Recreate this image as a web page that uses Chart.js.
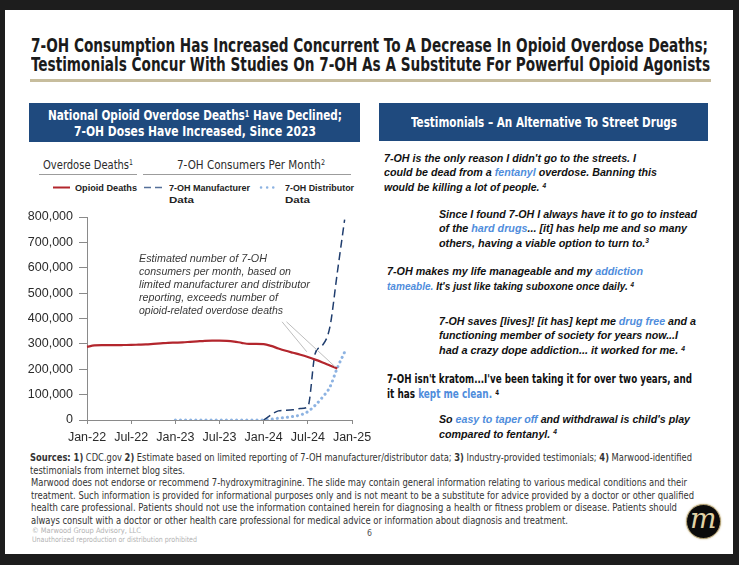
<!DOCTYPE html>
<html><head><meta charset="utf-8">
<script src="https://cdn.jsdelivr.net/npm/chart.js@4.4.1/dist/chart.umd.min.js"></script>
<style>
html,body{margin:0;padding:0;width:739px;height:565px;overflow:hidden;background:#1d1d1d;font-family:"Liberation Sans",Arial,sans-serif;}
.slide{position:absolute;left:5px;top:10px;width:728px;height:544px;background:#fff;}
.ln{position:absolute;white-space:nowrap;display:inline-block;line-height:1.2;transform-origin:left center;}
.nar{font-family:"Liberation Sans Narrow","DejaVu Sans Condensed","Liberation Sans",Arial,sans-serif;}
.title{font-size:19px;font-weight:bold;color:#1b1b1b;}
.hdr{font-size:13.5px;font-weight:bold;color:#fff;}
.sub{font-size:12.5px;color:#2b2b2b;}
.leg{font-size:9.5px;font-weight:bold;color:#222;}
.tq{font-size:11.5px;font-weight:bold;font-style:italic;color:#111;}
.tq.up{font-style:normal;}
.hl{color:#4f8ddc;}
.ann{font-size:11px;font-style:italic;color:#3a3a3a;}
.src{font-size:10px;color:#333;}
.cp{font-size:7.5px;color:#b3b3b3;}
.sup{font-size:0.62em;position:relative;top:-0.45em;}
.box{position:absolute;background:#1f4a7e;}
.rule{position:absolute;}
#chartWrap{position:absolute;left:0;top:200px;width:380px;height:250px;}
.logo{position:absolute;left:686px;top:504px;width:33px;height:33px;border-radius:50%;background:#0b0b0b;border:1.5px solid #b9a77a;box-shadow:0 0 2px #c9b98a;overflow:hidden;}
.logo span{position:absolute;left:3px;top:-3px;font-family:"DejaVu Serif",serif;font-style:italic;font-size:28px;color:#e2d4a6;letter-spacing:-2px;}
</style>
</head>
<body>
<div class="slide"></div>

<!-- Title -->
<div class="ln nar title" data-x="31" data-y="45" data-w="677">7-OH Consumption Has Increased Concurrent To A Decrease In Opioid Overdose Deaths;</div>
<div class="ln nar title" data-x="31" data-y="64.5" data-w="679">Testimonials Concur With Studies On 7-OH As A Substitute For Powerful Opioid Agonists</div>
<div class="rule" style="left:30px;top:79px;width:681px;height:3px;background:#c7bd9d"></div>

<!-- Left header -->
<div class="box" style="left:29px;top:103px;width:331px;height:39px"></div>
<div class="ln nar hdr" data-x="48" data-y="115.5" data-w="294">National Opioid Overdose Deaths<span class="sup">1</span> Have Declined;</div>
<div class="ln nar hdr" data-x="73.5" data-y="131" data-w="242">7-OH Doses Have Increased, Since 2023</div>

<!-- Right header -->
<div class="box" style="left:379px;top:103px;width:329px;height:38px"></div>
<div class="ln nar hdr" data-x="410.5" data-y="122" data-w="266">Testimonials – An Alternative To Street Drugs</div>

<!-- Sub headers -->
<div class="ln nar sub" data-x="42.7" data-y="164" data-w="90">Overdose Deaths<span class="sup">1</span></div>
<div class="rule" style="left:38.5px;top:173.5px;width:98px;height:1.5px;background:#9c9c9c"></div>
<div class="ln nar sub" data-x="176.7" data-y="164" data-w="148">7-OH Consumers Per Month<span class="sup">2</span></div>
<div class="rule" style="left:143px;top:173.5px;width:208px;height:1.5px;background:#9c9c9c"></div>

<!-- Legend -->
<svg style="position:absolute;left:0;top:0" width="739" height="230">
  <line x1="53" y1="187.5" x2="70" y2="187.5" stroke="#b3262d" stroke-width="2"/>
  <line x1="144" y1="187.5" x2="164" y2="187.5" stroke="#55709a" stroke-width="1.5" stroke-dasharray="7,4"/>
  <line x1="261" y1="187.5" x2="279" y2="187.5" stroke="#8db3e2" stroke-width="2.5" stroke-linecap="round" stroke-dasharray="0.1,6"/>
</svg>
<div class="ln leg" data-x="75" data-y="187.5" data-w="62">Opioid Deaths</div>
<div class="ln leg" data-x="169" data-y="187.5" data-w="81">7-OH Manufacturer</div>
<div class="ln leg" data-x="169" data-y="200" data-w="25">Data</div>
<div class="ln leg" data-x="284.5" data-y="187.5" data-w="69">7-OH Distributor</div>
<div class="ln leg" data-x="284.5" data-y="200" data-w="25">Data</div>

<!-- Chart -->
<div id="chartWrap"><canvas id="c" width="380" height="250"></canvas></div>

<!-- Annotation -->
<div class="ln ann" data-x="139" data-y="258.3" data-w="128">Estimated number of 7-OH</div>
<div class="ln ann" data-x="139" data-y="271.2" data-w="152">consumers per month, based on</div>
<div class="ln ann" data-x="139" data-y="284.2" data-w="171">limited manufacturer and distributor</div>
<div class="ln ann" data-x="139" data-y="297.3" data-w="139">reporting, exceeds number of</div>
<div class="ln ann" data-x="139" data-y="310.5" data-w="144">opioid-related overdose deaths</div>

<!-- Testimonials -->
<div class="ln tq" data-x="383.5" data-y="158.5" data-w="252">7-OH is the only reason I didn't go to the streets. I</div>
<div class="ln tq" data-x="383.5" data-y="173.2" data-w="273">could be dead from a <span class="hl">fentanyl</span> overdose. Banning this</div>
<div class="ln tq" data-x="383.5" data-y="187.8" data-w="162">would be killing a lot of people. <span class="sup">4</span></div>

<div class="ln tq" data-x="438.5" data-y="214.5" data-w="258">Since I found 7-OH I always have it to go to instead</div>
<div class="ln tq" data-x="438.5" data-y="229" data-w="248">of the <span class="hl">hard drugs</span>... [it] has help me and so many</div>
<div class="ln tq" data-x="438.5" data-y="243.5" data-w="210">others, having a viable option to turn to.<span class="sup">3</span></div>

<div class="ln tq" data-x="386.5" data-y="272" data-w="256">7-OH makes my life manageable and my <span class="hl">addiction</span></div>
<div class="ln tq" data-x="386.5" data-y="286.8" data-w="247"><span class="hl">tameable.</span> It's just like taking suboxone once daily. <span class="sup">4</span></div>

<div class="ln tq" data-x="439" data-y="321.5" data-w="257">7-OH saves [lives]! [it has] kept me <span class="hl">drug free</span> and a</div>
<div class="ln tq" data-x="439" data-y="336.3" data-w="239">functioning member of society for years now...I</div>
<div class="ln tq" data-x="439" data-y="351" data-w="246">had a crazy dope addiction... it worked for me. <span class="sup">4</span></div>

<div class="ln nar tq up" data-x="386.5" data-y="380" data-w="305">7-OH isn't kratom...I've been taking it for over two years, and</div>
<div class="ln nar tq up" data-x="386.5" data-y="395" data-w="112">it has <span class="hl">kept me clean.</span> <span class="sup">4</span></div>

<div class="ln tq" data-x="439" data-y="419.5" data-w="251">So <span class="hl">easy to taper off</span> and withdrawal is child's play</div>
<div class="ln tq" data-x="439" data-y="434.5" data-w="118">compared to fentanyl. <span class="sup">4</span></div>

<!-- Sources / disclaimer -->
<div class="ln nar src" data-x="30" data-y="457.5" data-w="662"><b>Sources: 1)</b> CDC.gov <b>2)</b> Estimate based on limited reporting of 7-OH manufacturer/distributor data; <b>3)</b> Industry-provided testimonials; <b>4)</b> Marwood-identified</div>
<div class="ln nar src" data-x="30" data-y="470.5" data-w="155">testimonials from internet blog sites.</div>
<div class="ln nar src" data-x="30.5" data-y="483" data-w="656">Marwood does not endorse or recommend 7-hydroxymitraginine. The slide may contain general information relating to various medical conditions and their</div>
<div class="ln nar src" data-x="30.5" data-y="495.8" data-w="663">treatment. Such information is provided for informational purposes only and is not meant to be a substitute for advice provided by a doctor or other qualified</div>
<div class="ln nar src" data-x="30.5" data-y="508.3" data-w="646">health care professional. Patients should not use the information contained herein for diagnosing a health or fitness problem or disease. Patients should</div>
<div class="ln nar src" data-x="30.5" data-y="520.8" data-w="537">always consult with a doctor or other health care professional for medical advice or information about diagnosis and treatment.</div>
<div class="ln nar cp" data-x="32" data-y="530" data-w="109">© Marwood Group Advisory, LLC</div>
<div class="ln nar cp" data-x="32" data-y="539" data-w="165">Unauthorized reproduction or distribution prohibited</div>
<div class="ln nar" style="font-size:9px;color:#555" data-x="366.5" data-y="533" data-w="5">6</div>

<div class="logo"><span>m</span></div>

<script>
// ---- Data ----
const months = ["Jan-22","Feb-22","Mar-22","Apr-22","May-22","Jun-22","Jul-22","Aug-22","Sep-22","Oct-22","Nov-22","Dec-22",
  "Jan-23","Feb-23","Mar-23","Apr-23","May-23","Jun-23","Jul-23","Aug-23","Sep-23","Oct-23","Nov-23","Dec-23",
  "Jan-24","Feb-24","Mar-24","Apr-24","May-24","Jun-24","Jul-24","Aug-24","Sep-24","Oct-24","Nov-24","Dec-24","Jan-25"];
const opioidDeaths = [288000,294000,295000,295000,295000,295500,296000,297000,298000,300000,302000,304000,
  305000,306000,308000,310000,312000,313000,313000,312000,309000,304000,300000,300000,
  299000,292000,282000,273000,265000,257000,248000,238000,227000,215000,203000];
const manufacturerData = [null,null,null,null,null,null,null,null,null,null,null,null,
  null,null,null,null,null,null,null,null,null,null,null,null,
  0,20000,36000,38000,40000,45000,52000,262000,295000,367000,580000,790000];
const distributorData = [null,null,null,null,null,null,null,null,null,null,null,null,
  0,0,0,0,0,0,0,0,0,0,0,0,
  0,3000,7000,10000,14000,20000,33000,58000,90000,130000,205000,268000];
const yTicks = [0,100000,200000,300000,400000,500000,600000,700000,800000];
// leader lines of the annotation: [month index, value] pairs
const leaderLines = [
  {from:[26.5,387000], to:[29.85,269000]},
  {from:[27.1,387000], to:[33.7,210000]}
];

// ---- fit text lines ----
document.querySelectorAll('.ln').forEach(el=>{
  const x=parseFloat(el.dataset.x), y=parseFloat(el.dataset.y), w=parseFloat(el.dataset.w);
  const r=el.getBoundingClientRect();
  el.style.left=x+'px';
  el.style.top=(y-r.height/2)+'px';
  if(w) el.style.transform='scaleX('+(w/r.width)+')';
});

// ---- chart ----
const leaderPlugin = {
  id:'leaders',
  afterDatasetsDraw(chart){
    const {ctx, scales:{x,y}} = chart;
    ctx.save();
    ctx.strokeStyle='#bdbdbd'; ctx.lineWidth=1;
    leaderLines.forEach(l=>{
      ctx.beginPath();
      ctx.moveTo(x.getPixelForValue(l.from[0]), y.getPixelForValue(l.from[1]));
      ctx.lineTo(x.getPixelForValue(l.to[0]), y.getPixelForValue(l.to[1]));
      ctx.stroke();
    });
    ctx.restore();
  }
};
Chart.defaults.font.family='"Liberation Sans", Arial, sans-serif';
new Chart(document.getElementById('c'), {
  type:'line',
  data:{
    labels:months,
    datasets:[
      {label:'7-OH Distributor Data', data:distributorData, borderColor:'#8db3e2', borderWidth:3,
       borderDash:[0.1,5], borderCapStyle:'round', pointRadius:0, cubicInterpolationMode:'monotone', order:3},
      {label:'7-OH Manufacturer Data', data:manufacturerData, borderColor:'#1f3d6e', borderWidth:1.5,
       borderDash:[8,4.5], pointRadius:0, cubicInterpolationMode:'monotone', order:2},
      {label:'Opioid Deaths', data:opioidDeaths, borderColor:'#b3262d', borderWidth:2.2,
       pointRadius:0, cubicInterpolationMode:'monotone', order:1}
    ]
  },
  options:{
    responsive:false, animation:false,
    layout:{padding:{top:17,right:28,left:0,bottom:0}},
    plugins:{legend:{display:false}, tooltip:{enabled:false}},
    scales:{
      x:{
        type:'category', offset:false,
        afterBuildTicks(axis){ axis.ticks = axis.ticks.filter(t=>t.value%6===0); },
        afterFit(s){ s.height=30; },
        ticks:{autoSkip:false, maxRotation:0, padding:6, color:'#2b2b2b', font:{size:12.5}},
        grid:{drawOnChartArea:false, drawTicks:true, tickLength:4, color:'#8a8a8a'},
        border:{display:true, color:'#8a8a8a', width:1}
      },
      y:{
        min:0, max:800000,
        afterBuildTicks(axis){ axis.ticks = yTicks.map(v=>({value:v})); },
        afterFit(s){ s.width=87; },
        ticks:{padding:6, color:'#2b2b2b', font:{size:12.5}, callback:v=>v.toLocaleString('en-US')},
        grid:{drawOnChartArea:false, drawTicks:true, tickLength:8, color:'#8a8a8a'},
        border:{display:true, color:'#8a8a8a', width:1}
      }
    }
  },
  plugins:[leaderPlugin]
});
</script>
</body></html>
